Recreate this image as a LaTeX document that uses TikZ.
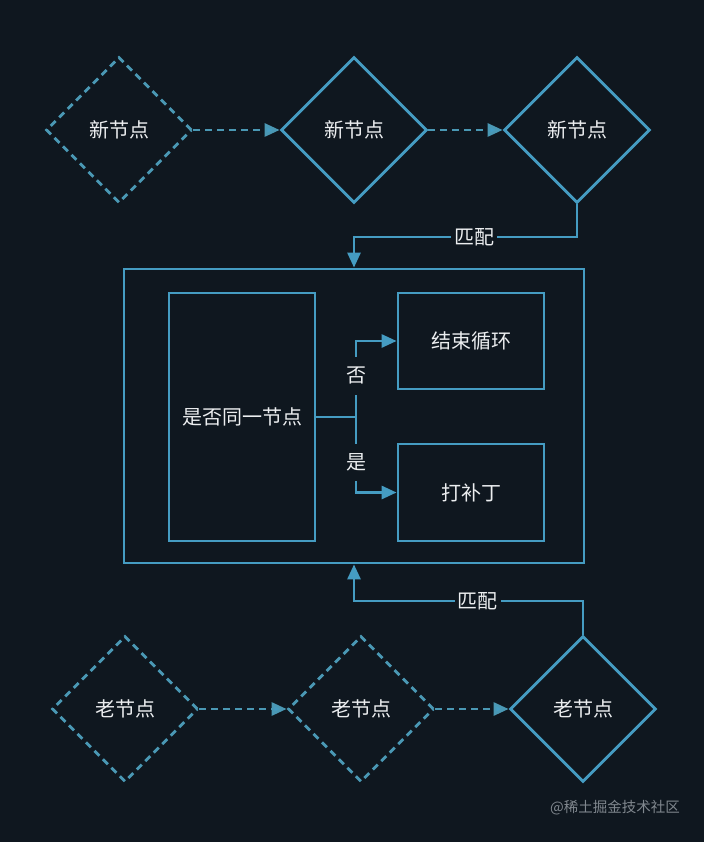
\documentclass[tikz,border=0pt]{standalone}
\usepackage{fontspec}
\newfontfamily\cjk{Noto Sans CJK SC}
\usetikzlibrary{shapes.geometric,arrows.meta}
\definecolor{bg}{HTML}{0F171F}
\definecolor{ln}{HTML}{459CC2}
\definecolor{dl}{HTML}{4A98B4}
\definecolor{tx}{HTML}{ECEEF0}
\definecolor{wm}{HTML}{80878E}
\begin{document}
\begin{tikzpicture}[x=1pt,y=-1pt,
  every node/.style={font=\cjk\fontsize{20}{23}\selectfont, text=tx},
  dia/.style={diamond, draw=ln, line width=2.8pt, minimum width=146pt, minimum height=146pt, inner sep=0pt, aspect=1},
  ddia/.style={dia, draw=dl, dash pattern=on 7pt off 5pt},
  box/.style={draw=ln, line width=2.8pt, rectangle, inner sep=0pt},
  conn/.style={draw=ln, line width=2.8pt, -{Triangle[length=15pt,width=13pt]}},
  dconn/.style={draw=dl, line width=2.8pt, dash pattern=on 7pt off 5pt, -{Triangle[length=15pt,width=13pt,fill=ln]}},
  lab/.style={fill=bg, inner xsep=3pt, inner ysep=10pt}
]
\fill[bg] (0,0) rectangle (704,842);
\useasboundingbox (0,0) rectangle (704,842);

% top row
\node[ddia] (d1) at (119,130) {新节点};
\node[dia]  (d2) at (354,130) {新节点};
\node[dia]  (d3) at (577,130) {新节点};
\draw[dconn] (d1.east) -- (d2.west);
\draw[dconn] (d2.east) -- (d3.west);

% main box
\node[box, minimum width=460pt, minimum height=294pt] (big) at (354,416) {};
\node[box, minimum width=146pt, minimum height=248pt] (lb) at (242,417) {是否同一节点};
\node[box, minimum width=146pt, minimum height=96pt] (tr) at (471,341) {结束循环};
\node[box, minimum width=146pt, minimum height=97pt] (br) at (471,492.5) {打补丁};

\coordinate (h1) at (0,237);
\coordinate (h2) at (0,601);
\coordinate (j) at (356,417);

\draw[conn] (d3.south) -- (d3.south |- h1) -- node[lab, pos=.46] (m1) {匹配} (big.north |- h1) -- (big.north);

\draw[draw=ln, line width=2.8pt] (lb.east) -- (j);
\draw[conn] (j) |- node[lab, pos=.27] (no) {否} (tr.west);
\draw[conn] (j) |- node[lab, pos=.30] (yes) {是} (br.west);

% bottom row
\node[ddia] (d4) at (125,709) {老节点};
\node[ddia] (d5) at (361,709) {老节点};
\node[dia]  (d6) at (583,709) {老节点};
\draw[dconn] (d4.east) -- (d5.west);
\draw[dconn] (d5.east) -- (d6.west);

\draw[conn] (d6.north) -- (d6.north |- h2) -- node[lab, pos=.46] (m2) {匹配} (big.south |- h2) -- (big.south);

\node[anchor=east, text=wm, font=\cjk\fontsize{14.5}{17}\selectfont, inner sep=0pt] (wmk) at (680,808) {@稀土掘金技术社区};
\end{tikzpicture}
\end{document}
